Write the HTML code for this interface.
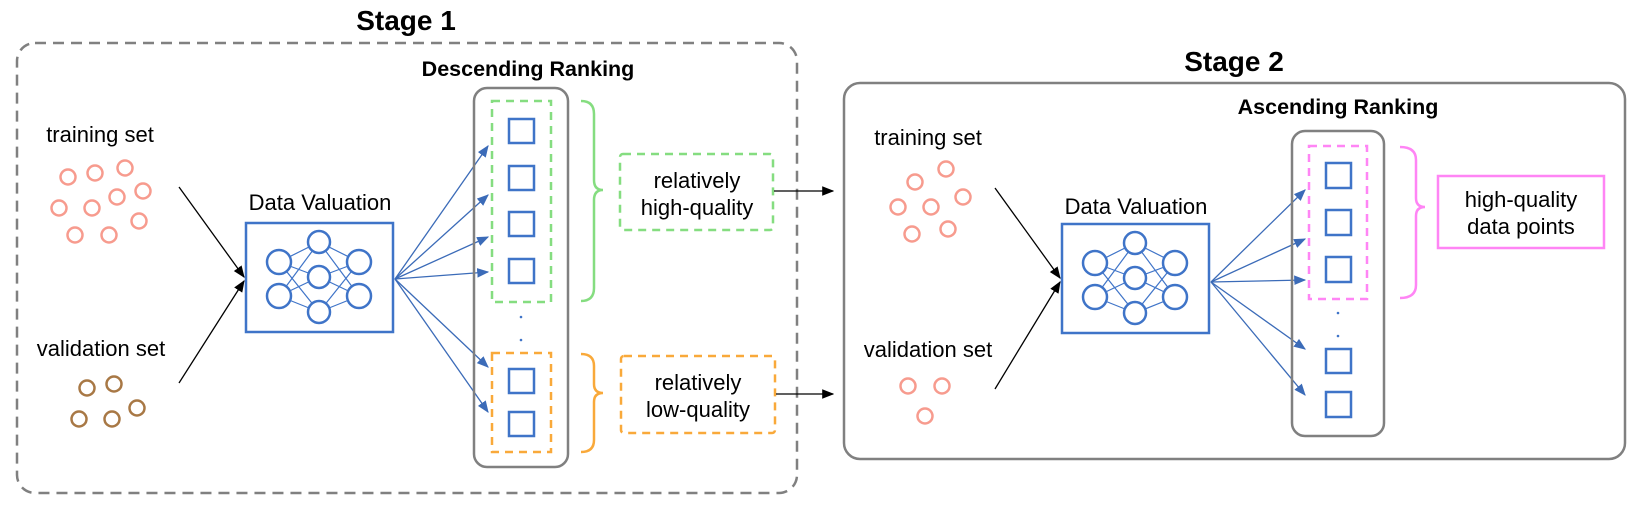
<!DOCTYPE html>
<html><head><meta charset="utf-8"><style>
html,body{margin:0;padding:0;background:#fff;}
svg{display:block;}
text{font-family:"Liberation Sans",Arial,sans-serif;}
</style></head><body>
<svg width="1635" height="509" viewBox="0 0 1635 509" xmlns="http://www.w3.org/2000/svg">
<defs>
<marker id="ab" viewBox="0 0 10 10" refX="9" refY="5" markerWidth="8" markerHeight="8" orient="auto" markerUnits="userSpaceOnUse"><path d="M0,0 L10,5 L0,10 z" fill="#000"/></marker>
<marker id="ab2" viewBox="0 0 10 10" refX="9" refY="5" markerWidth="12" markerHeight="12" orient="auto" markerUnits="userSpaceOnUse"><path d="M0,1 L10,5 L0,9 z" fill="#000"/></marker>
<marker id="au" viewBox="0 0 10 10" refX="9" refY="5" markerWidth="12" markerHeight="12" orient="auto" markerUnits="userSpaceOnUse"><path d="M0,1 L10,5 L0,9 z" fill="#3b6bb8"/></marker>
<g id="nn" stroke="#3f74c8" fill="none">
<g stroke-width="1.2">
<line x1="279" y1="262" x2="319" y2="242"/><line x1="279" y1="262" x2="319" y2="277"/><line x1="279" y1="262" x2="319" y2="312"/>
<line x1="279" y1="296" x2="319" y2="242"/><line x1="279" y1="296" x2="319" y2="277"/><line x1="279" y1="296" x2="319" y2="312"/>
<line x1="359" y1="262" x2="319" y2="242"/><line x1="359" y1="262" x2="319" y2="277"/><line x1="359" y1="262" x2="319" y2="312"/>
<line x1="359" y1="296" x2="319" y2="242"/><line x1="359" y1="296" x2="319" y2="277"/><line x1="359" y1="296" x2="319" y2="312"/>
</g>
<g stroke-width="2.5" fill="#fff">
<circle cx="279" cy="262" r="12"/><circle cx="279" cy="296" r="12"/>
<circle cx="319" cy="242" r="11"/><circle cx="319" cy="277" r="11"/><circle cx="319" cy="312" r="11"/>
<circle cx="359" cy="262" r="12"/><circle cx="359" cy="296" r="12"/>
</g>
<rect x="246" y="223" width="147" height="109" stroke-width="2.5"/>
</g>
</defs>

<!-- Stage 1 -->
<text x="406" y="30" font-size="28" font-weight="bold" text-anchor="middle">Stage 1</text>
<rect x="17" y="43" width="780" height="450" rx="18" fill="none" stroke="#808080" stroke-width="2.5" stroke-dasharray="11,7"/>
<text x="528" y="76" font-size="21.5" font-weight="bold" text-anchor="middle">Descending Ranking</text>

<text x="100" y="142" font-size="22" text-anchor="middle">training set</text>
<g fill="none" stroke="#f79b8e" stroke-width="2.5">
<circle cx="68" cy="177" r="7.5"/><circle cx="95" cy="173" r="7.5"/><circle cx="125" cy="168" r="7.5"/><circle cx="143" cy="191" r="7.5"/><circle cx="117" cy="197" r="7.5"/><circle cx="92" cy="208" r="7.5"/><circle cx="59" cy="208" r="7.5"/><circle cx="139" cy="221" r="7.5"/><circle cx="75" cy="235" r="7.5"/><circle cx="109" cy="235" r="7.5"/>
</g>
<text x="101" y="356" font-size="22" text-anchor="middle">validation set</text>
<g fill="none" stroke="#a87845" stroke-width="2.5">
<circle cx="87" cy="388" r="7.5"/><circle cx="114" cy="384" r="7.5"/><circle cx="137" cy="408" r="7.5"/><circle cx="79" cy="419" r="7.5"/><circle cx="112" cy="419" r="7.5"/>
</g>
<line x1="179" y1="187" x2="244" y2="277" stroke="#000" stroke-width="1.3" marker-end="url(#ab2)"/>
<line x1="179" y1="383" x2="244" y2="281" stroke="#000" stroke-width="1.3" marker-end="url(#ab2)"/>

<text x="320" y="210" font-size="22" text-anchor="middle">Data Valuation</text>
<use href="#nn"/>

<g stroke="#3b6bb8" stroke-width="1.3" marker-end="url(#au)">
<line x1="395" y1="279" x2="488" y2="146"/><line x1="395" y1="279" x2="488" y2="195"/><line x1="395" y1="279" x2="488" y2="237"/><line x1="395" y1="279" x2="488" y2="272"/><line x1="395" y1="279" x2="488" y2="367"/><line x1="395" y1="279" x2="488" y2="412"/>
</g>
<rect x="474" y="88" width="94" height="379" rx="13" fill="none" stroke="#808080" stroke-width="2.5"/>
<rect x="492" y="101" width="59" height="201" fill="none" stroke="#85dd80" stroke-width="2.5" stroke-dasharray="8,6"/>
<rect x="492" y="353" width="59" height="99" fill="none" stroke="#f9a93a" stroke-width="2.5" stroke-dasharray="8,6"/>
<g fill="none" stroke="#3f74c8" stroke-width="2.5">
<rect x="509" y="119" width="25" height="24"/><rect x="509" y="166" width="25" height="24"/><rect x="509" y="212" width="25" height="24"/><rect x="509" y="259" width="25" height="24"/><rect x="509" y="369" width="25" height="24"/><rect x="509" y="412" width="25" height="24"/>
</g>
<circle cx="521" cy="317" r="1.3" fill="#3f74c8"/><circle cx="521" cy="340" r="1.3" fill="#3f74c8"/>
<path d="M581,101 Q594,101 594,114 L594,180 Q594,190 603,190 Q594,190 594,200 L594,288 Q594,301 581,301" fill="none" stroke="#85dd80" stroke-width="2.5"/>
<path d="M581,354 Q594,354 594,366 L594,384 Q594,393 603,393 Q594,393 594,402 L594,440 Q594,452 581,452" fill="none" stroke="#f9a93a" stroke-width="2.5"/>
<rect x="620" y="154" width="153" height="76" rx="3" fill="none" stroke="#85dd80" stroke-width="2.5" stroke-dasharray="8,6"/>
<text x="697" y="188" font-size="22" text-anchor="middle">relatively</text>
<text x="697" y="215" font-size="22" text-anchor="middle">high-quality</text>
<rect x="621" y="356" width="154" height="77" rx="3" fill="none" stroke="#f9a93a" stroke-width="2.5" stroke-dasharray="8,6"/>
<text x="698" y="390" font-size="22" text-anchor="middle">relatively</text>
<text x="698" y="417" font-size="22" text-anchor="middle">low-quality</text>
<line x1="774" y1="191" x2="833" y2="191" stroke="#000" stroke-width="1.3" marker-end="url(#ab2)"/>
<line x1="776" y1="394" x2="833" y2="394" stroke="#000" stroke-width="1.3" marker-end="url(#ab2)"/>

<!-- Stage 2 -->
<text x="1234" y="71" font-size="28" font-weight="bold" text-anchor="middle">Stage 2</text>
<rect x="844" y="83" width="781" height="376" rx="16" fill="none" stroke="#808080" stroke-width="2.5"/>
<text x="1338" y="114" font-size="21.5" font-weight="bold" text-anchor="middle">Ascending Ranking</text>

<text x="928" y="145" font-size="22" text-anchor="middle">training set</text>
<g fill="none" stroke="#f79b8e" stroke-width="2.5">
<circle cx="946" cy="169" r="7.5"/><circle cx="915" cy="182" r="7.5"/><circle cx="963" cy="197" r="7.5"/><circle cx="898" cy="207" r="7.5"/><circle cx="931" cy="207" r="7.5"/><circle cx="912" cy="234" r="7.5"/><circle cx="948" cy="229" r="7.5"/>
</g>
<text x="928" y="357" font-size="22" text-anchor="middle">validation set</text>
<g fill="none" stroke="#f79b8e" stroke-width="2.5">
<circle cx="908" cy="386" r="7.5"/><circle cx="942" cy="386" r="7.5"/><circle cx="925" cy="416" r="7.5"/>
</g>
<line x1="995" y1="188" x2="1060" y2="278" stroke="#000" stroke-width="1.3" marker-end="url(#ab2)"/>
<line x1="995" y1="389" x2="1060" y2="282" stroke="#000" stroke-width="1.3" marker-end="url(#ab2)"/>

<text x="1136" y="214" font-size="22" text-anchor="middle">Data Valuation</text>
<use href="#nn" transform="translate(816,1)"/>

<g stroke="#3b6bb8" stroke-width="1.3" marker-end="url(#au)">
<line x1="1211" y1="282" x2="1305" y2="190"/><line x1="1211" y1="282" x2="1305" y2="239"/><line x1="1211" y1="282" x2="1305" y2="280"/><line x1="1211" y1="282" x2="1305" y2="349"/><line x1="1211" y1="282" x2="1305" y2="395"/>
</g>
<rect x="1292" y="131" width="92" height="305" rx="13" fill="none" stroke="#808080" stroke-width="2.5"/>
<rect x="1309" y="146" width="58" height="153" fill="none" stroke="#ff85f5" stroke-width="2.5" stroke-dasharray="8,6"/>
<g fill="none" stroke="#3f74c8" stroke-width="2.5">
<rect x="1326" y="163" width="25" height="25"/><rect x="1326" y="210" width="25" height="25"/><rect x="1326" y="257" width="25" height="25"/><rect x="1326" y="349" width="25" height="24"/><rect x="1326" y="392" width="25" height="25"/>
</g>
<circle cx="1338" cy="313" r="1.3" fill="#3f74c8"/><circle cx="1338" cy="336" r="1.3" fill="#3f74c8"/>
<path d="M1400,147 Q1416,147 1416,160 L1416,198 Q1416,207 1425,207 Q1416,207 1416,216 L1416,285 Q1416,298 1400,298" fill="none" stroke="#ff85f5" stroke-width="2.5"/>
<rect x="1438" y="176" width="166" height="72" fill="none" stroke="#ff85f5" stroke-width="2.5"/>
<text x="1521" y="207" font-size="22" text-anchor="middle">high-quality</text>
<text x="1521" y="234" font-size="22" text-anchor="middle">data points</text>
</svg>
</body></html>
